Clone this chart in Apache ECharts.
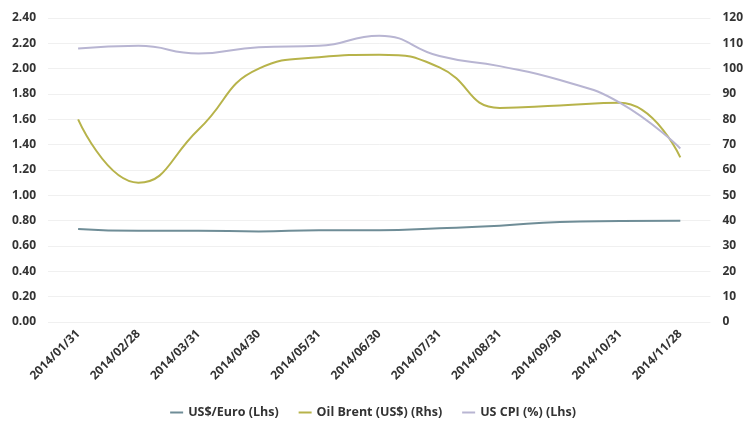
<!DOCTYPE html>
<html>
<head>
<meta charset="utf-8">
<script src="https://cdn.jsdelivr.net/npm/echarts@6/dist/echarts.min.js"></script>
<style>
  html, body { margin: 0; padding: 0; background: #fff; }
  #chart { width: 746px; height: 428px; }
</style>
</head>
<body>
<div id="chart"></div>
<script>
// Month-end dates
const categories = ['2014/01/31', '2014/02/28', '2014/03/31', '2014/04/30', '2014/05/31',
  '2014/06/30', '2014/07/31', '2014/08/31', '2014/09/30', '2014/10/31', '2014/11/28'];

// Left-hand axis series
const usdEuro = [0.735, 0.72, 0.72, 0.715, 0.725, 0.725, 0.74, 0.76, 0.79, 0.797, 0.80];
const usCpi = [2.16, 2.18, 2.12, 2.17, 2.18, 2.26, 2.10, 2.02, 1.91, 1.73, 1.37];

// Right-hand axis series
const oilBrent = [80, 55, 76, 100, 104.5, 105.5, 100.5, 84.5, 85.5, 86.5, 65];

const chart = echarts.init(document.getElementById('chart'));

const labelStyle = { color: '#333', fontSize: 12, fontWeight: 'bold', fontFamily: 'Open Sans' };

chart.setOption({
  animation: false,
  grid: { left: 48, right: 34, top: 18, bottom: 106 },
  legend: {
    bottom: 4,
    left: 'center',
    itemWidth: 13,
    itemHeight: 2,
    itemGap: 20,
    icon: 'rect',
    textStyle: { color: '#333', fontSize: 12.5, fontWeight: 'bold', fontFamily: 'Open Sans' },
    data: ['US$/Euro (Lhs)', 'Oil Brent (US$) (Rhs)', 'US CPI (%) (Lhs)']
  },
  xAxis: {
    type: 'category',
    data: categories,
    boundaryGap: true,
    axisLine: { show: false },
    axisTick: { show: false },
    axisLabel: Object.assign({ rotate: 45, margin: 10, interval: 0 }, labelStyle)
  },
  yAxis: [
    {
      type: 'value',
      min: 0, max: 2.4, interval: 0.2,
      position: 'left',
      axisLine: { show: false },
      axisTick: { show: false },
      axisLabel: Object.assign({ formatter: v => v.toFixed(2), margin: 12 }, labelStyle),
      splitLine: { lineStyle: { color: '#f0f0f0', width: 1 } }
    },
    {
      type: 'value',
      min: 0, max: 120, interval: 10,
      position: 'right',
      axisLine: { show: false },
      axisTick: { show: false },
      axisLabel: Object.assign({ margin: 12 }, labelStyle),
      splitLine: { show: false }
    }
  ],
  series: [
    {
      name: 'US$/Euro (Lhs)',
      type: 'line',
      yAxisIndex: 0,
      data: usdEuro,
      smooth: true,
      symbol: 'none',
      lineStyle: { color: '#6f8d97', width: 2 },
      itemStyle: { color: '#6f8d97' }
    },
    {
      name: 'Oil Brent (US$) (Rhs)',
      type: 'line',
      yAxisIndex: 1,
      data: oilBrent,
      smooth: true,
      symbol: 'none',
      lineStyle: { color: '#b7b34a', width: 2 },
      itemStyle: { color: '#b7b34a' }
    },
    {
      name: 'US CPI (%) (Lhs)',
      type: 'line',
      yAxisIndex: 0,
      data: usCpi,
      smooth: true,
      symbol: 'none',
      lineStyle: { color: '#b8b5d2', width: 2 },
      itemStyle: { color: '#b8b5d2' }
    }
  ]
});
</script>
</body>
</html>
